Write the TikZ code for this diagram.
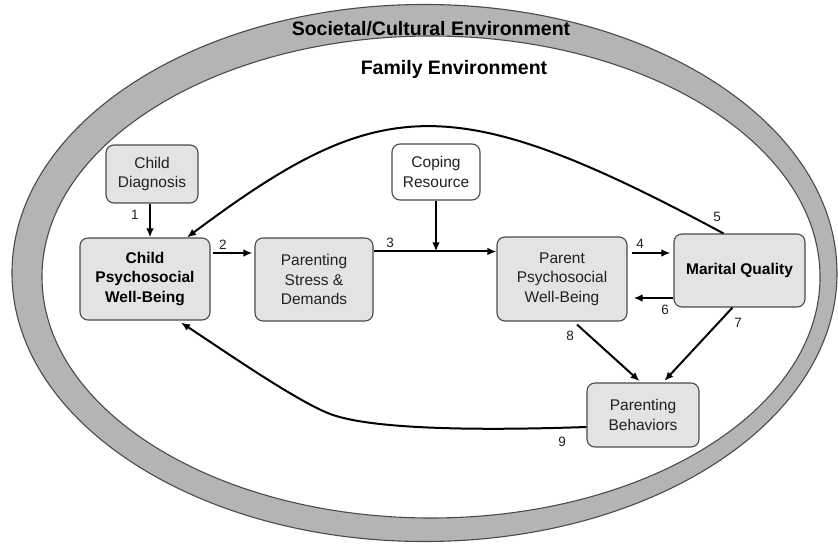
\documentclass[tikz,border=0pt]{standalone}
\usepackage{fontspec}
\setmainfont{Liberation Sans}
\usetikzlibrary{arrows.meta}
\definecolor{ringgray}{HTML}{B4B4B4}
\definecolor{boxgray}{HTML}{E3E3E3}
\definecolor{edgegray}{HTML}{4A4A4A}
\definecolor{txt}{HTML}{202020}
\tikzset{
  box/.style={draw=edgegray, line width=1.1pt, fill=boxgray, rounded corners=8pt,
    align=center, inner sep=0pt, text=txt, font=\fontsize{15.5}{19.5}\selectfont},
  wbox/.style={box, fill=white},
  bbox/.style={box, text=black, font=\fontsize{15.5}{19.5}\selectfont\bfseries},
  arr/.style={line width=2pt, -{Latex[length=9pt,width=7.5pt]}},
  num/.style={inner sep=0pt, text=txt, font=\fontsize{13.5}{13.5}\selectfont},
  ttl/.style={inner sep=0pt, anchor=base, text=black, font=\fontsize{19.5}{20}\selectfont\bfseries}
}
\begin{document}
\begin{tikzpicture}[x=1pt,y=-1pt]
\useasboundingbox (0,0) rectangle (838,545);
% environments
\draw[fill=ringgray, draw=edgegray, line width=1.1pt] (424.5,273) ellipse [x radius=412.5pt, y radius=268.5pt];
\draw[fill=white, draw=edgegray, line width=1.1pt] (431,277) ellipse [x radius=389pt, y radius=241pt];
\node[ttl] (soc) at (431,36) {Societal/Cultural Environment};
\node[ttl] (fam) at (454,75) {Family Environment};
% boxes
\node[box, minimum width=92pt, minimum height=58pt] (cd) at (152,174) {Child\\Diagnosis};
\node[bbox, minimum width=130pt, minimum height=82pt] (cpw) at (145,279) {Child\\Psychosocial\\Well-Being};
\node[box, minimum width=118pt, minimum height=83pt] (psd) at (314,279.5) {Parenting\\Stress \&\\Demands};
\node[wbox, minimum width=88pt, minimum height=56pt] (cr) at (436,172) {Coping\\Resource};
\node[box, minimum width=130pt, minimum height=84pt] (ppw) at (562,279) {Parent\\Psychosocial\\Well-Being};
\node[bbox, minimum width=131pt, minimum height=73pt] (mq) at (739.5,270.5) {Marital Quality};
\node[box, minimum width=112pt, minimum height=64pt] (pb) at (643,415) {Parenting\\Behaviors};
% connector anchor points
\coordinate (a1) at ([xshift=-2pt]cd.south);
\coordinate (a2) at ([yshift=26pt]cpw.east);
\coordinate (a3) at ([yshift=28pt]psd.east);
\coordinate (a4) at ([yshift=26pt]ppw.east);
\coordinate (a6) at ([yshift=-27.5pt]mq.west);
\coordinate (s5) at ([xshift=-16pt]mq.north);
\coordinate (e5) at ([xshift=42pt]cpw.north);
\coordinate (s7) at ([xshift=-7pt]mq.south);
\coordinate (e7) at ([xshift=20pt]pb.north);
\coordinate (s8) at ([xshift=15pt,yshift=-3pt]ppw.south);
\coordinate (e8) at ([xshift=-2pt]pb.north);
\coordinate (s9) at ([yshift=-12pt]pb.west);
\coordinate (e9) at ([xshift=36pt,yshift=-2pt]cpw.south);
% connectors
\draw[arr] (a1) -- (a1 |- cpw.north);
\draw[arr, shorten <=2pt, shorten >=2pt] (a2) -- (a2 -| psd.west);
\draw[arr] (a3) -- (a3 -| ppw.west);
\draw[arr] (cr.south) -- (cr.south |- a3);
\draw[arr, shorten <=4pt, shorten >=3pt] (a4) -- (a4 -| mq.west);
\draw[arr, shorten >=6pt] (a6) -- (a6 -| ppw.east);
\draw[arr] (s5) .. controls (451,87) and (379,94) .. (e5);
\draw[arr, shorten >=2pt] (s7) -- (e7);
\draw[arr, shorten >=2pt] (s8) -- (e8);
\draw[arr] (s9) .. controls (500,430) and (380.5,431) .. (333,415)
  .. controls (299.8,403.8) and (220,348) .. (e9);
% labels
\node[num] (l1) at (135,215) {1};
\node[num] (l2) at (223,245) {2};
\node[num] (l3) at (390,243) {3};
\node[num] (l4) at (640,244) {4};
\node[num] (l5) at (717,217) {5};
\node[num] (l6) at (665,310) {6};
\node[num] (l7) at (738,323) {7};
\node[num] (l8) at (570,336) {8};
\node[num] (l9) at (562,442) {9};
\end{tikzpicture}
\end{document}
